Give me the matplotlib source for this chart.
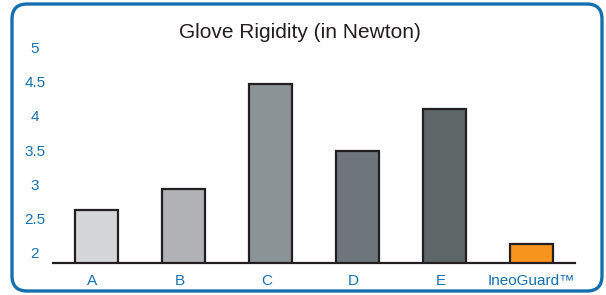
import matplotlib
matplotlib.use("Agg")
import matplotlib.pyplot as plt
from matplotlib.patches import FancyBboxPatch
from matplotlib.transforms import ScaledTranslation

categories = ["A", "B", "C", "D", "E", "IneoGuard\u2122"]
values = [2.63, 2.93, 4.46, 3.49, 4.10, 2.13]
colors = ["#d5d6d8", "#b0b2b5", "#8c9396", "#6e767c", "#5f6668", "#f7941d"]
yticks = [2, 2.5, 3, 3.5, 4, 4.5, 5]
yticklabels = ["2", "2.5", "3", "3.5", "4", "4.5", "5"]

BLUE = "#1570b0"
plt.rcParams['font.family'] = ['Liberation Sans', 'DejaVu Sans']

W, H = 606, 295
fig = plt.figure(figsize=(W/100, H/100), dpi=100)

# rounded frame
frame = FancyBboxPatch((12/W, 4/H), (602-12)/W, (291-4)/H,
                       boxstyle="round,pad=0,rounding_size=0.025",
                       transform=fig.transFigure, fill=False,
                       edgecolor=BLUE, linewidth=2.4, mutation_aspect=W/H)
fig.patches.append(frame)

ax = fig.add_axes([53/W, 32/H, (575-53)/W, (263-33.5)/H])
ymin = 2 - 10/68.6
ymax = 2 + (253-33.5)/68.6
x = list(range(len(categories)))
ax.bar(x, values, width=0.5, bottom=0, color=colors, edgecolor="#231f20",
       linewidth=1.6, zorder=2)
ax.set_xlim(-0.5, len(categories)-0.5)
ax.set_ylim(ymin, ymax)
ax.set_yticks(yticks)
ax.set_yticklabels(yticklabels)
ax.set_xticks(x)
ax.set_xticklabels(categories)
for s in ["top", "right", "left"]:
    ax.spines[s].set_visible(False)
ax.spines["bottom"].set_color("#231f20")
ax.spines["bottom"].set_linewidth(1.6)
ax.spines["bottom"].set_zorder(3)
ax.tick_params(axis="both", length=0, colors=BLUE, labelsize=11)
ax.tick_params(axis="y", pad=13)
for lab in ax.get_yticklabels():
    lab.set_horizontalalignment("center")
ax.tick_params(axis="x", pad=8)
for lab in ax.get_xticklabels()[:-1]:
    lab.set_transform(lab.get_transform() + ScaledTranslation(-4/100, 0, fig.dpi_scale_trans))
ax.patch.set_alpha(0)

fig.text(300/W, 1 - 32/H, "Glove Rigidity (in Newton)", ha="center", va="center",
         fontsize=15, color="#231f20")

fig.savefig("out.png", dpi=100)
